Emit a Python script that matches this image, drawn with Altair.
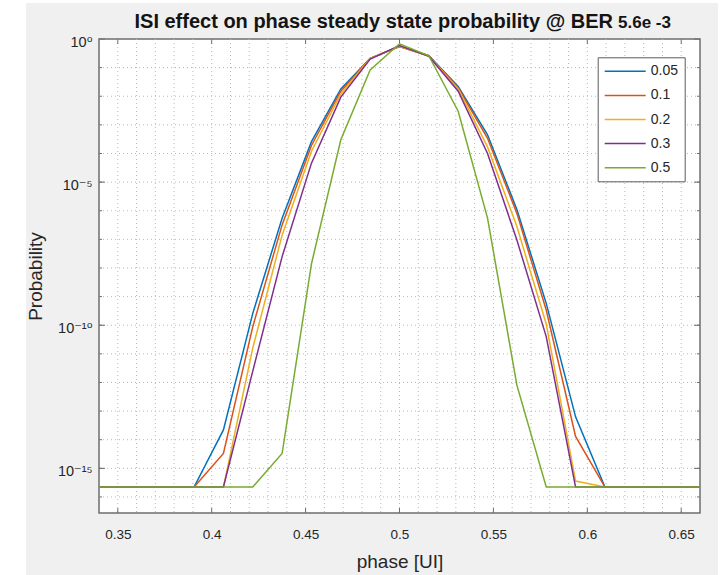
import altair as alt
import pandas as pd

# ---------------- data ----------------
EPS = 2.22e-16  # probability floor (machine epsilon)

phase = [0.328125, 0.34375, 0.359375, 0.375, 0.390625, 0.40625, 0.421875,
         0.4375, 0.453125, 0.46875, 0.484375, 0.5, 0.515625, 0.53125,
         0.546875, 0.5625, 0.578125, 0.59375, 0.609375, 0.625, 0.640625,
         0.65625, 0.671875]

isi_005 = [EPS, EPS, EPS, EPS, EPS, 2.2e-14, 2.6e-10, 5.5e-7, 2.6e-4, 1.8e-2,
           0.21, 0.55, 0.26, 2.2e-2, 4.5e-4, 1.1e-6, 5.8e-10, 6.3e-14,
           EPS, EPS, EPS, EPS, EPS]
isi_01 = [EPS, EPS, EPS, EPS, EPS, 3.3e-15, 8.9e-11, 3.2e-7, 1.9e-4, 1.5e-2,
          0.21, 0.55, 0.26, 2.0e-2, 3.4e-4, 8.1e-7, 3.4e-10, 1.3e-14,
          EPS, EPS, EPS, EPS, EPS]
isi_02 = [EPS, EPS, EPS, EPS, EPS, EPS, 1.6e-11, 1.4e-7, 1.2e-4, 1.2e-2,
          0.21, 0.56, 0.25, 1.8e-2, 1.7e-4, 2.8e-7, 1.1e-10, 3.6e-16,
          EPS, EPS, EPS, EPS, EPS]
isi_03 = [EPS, EPS, EPS, EPS, EPS, EPS, 2.5e-12, 2.5e-8, 4.6e-5, 9.3e-3,
          0.20, 0.59, 0.25, 1.5e-2, 1.0e-4, 9.5e-8, 4.0e-11, EPS,
          EPS, EPS, EPS, EPS, EPS]
isi_05 = [EPS, EPS, EPS, EPS, EPS, EPS, EPS, 3.3e-15, 1.4e-8, 3.0e-4,
          8.3e-2, 0.68, 0.26, 3.0e-3, 5.5e-7, 8.1e-13, EPS, EPS,
          EPS, EPS, EPS, EPS, EPS]

series_names = ["0.05", "0.1", "0.2", "0.3", "0.5"]
series_values = [isi_005, isi_01, isi_02, isi_03, isi_05]
series_colors = ["#0072BD", "#D95319", "#EDB120", "#7E2F8E", "#77AC30"]

x_major = [0.35, 0.4, 0.45, 0.5, 0.55, 0.6, 0.65]
x_minor = [0.35, 0.36, 0.37, 0.38, 0.39, 0.40, 0.41, 0.42, 0.43, 0.44, 0.45,
           0.46, 0.47, 0.48, 0.49, 0.50, 0.51, 0.52, 0.53, 0.54, 0.55, 0.56,
           0.57, 0.58, 0.59, 0.60, 0.61, 0.62, 0.63, 0.64, 0.65]
y_major = [1.0, 1e-5, 1e-10, 1e-15]
y_major_labels = ["10\u2070", "10\u207b\u2075", "10\u207b\u00b9\u2070", "10\u207b\u00b9\u2075"]
y_minor = [1e-1, 1e-2, 1e-3, 1e-4, 1e-5, 1e-6, 1e-7, 1e-8, 1e-9, 1e-10,
           1e-11, 1e-12, 1e-13, 1e-14, 1e-15, 1e-16]

TITLE_MAIN = "ISI effect on phase steady state probability @ BER"
TITLE_BER = "5.6e -3"
X_TITLE = "phase [UI]"
Y_TITLE = "Probability"

# ---------------- tables ----------------
rows = []
for name, vals in zip(series_names, series_values):
    for p, v in zip(phase, vals):
        rows.append({"phase": p, "prob": v, "isi": name})
df = pd.DataFrame(rows)

df_xminor = pd.DataFrame({"phase": x_minor})
df_xmajor = pd.DataFrame({"phase": x_major})
df_ymajor = pd.DataFrame({"prob": y_major})
df_yminor = pd.DataFrame({"prob": y_minor})
df_one = pd.DataFrame({"k": [0]})

# ---------------- styling ----------------
W, H = 601, 474
FONT = "Liberation Sans, Arial, DejaVu Sans, sans-serif"
TXT = "#262626"
FRAME = "#6e6e6e"
GRID = "#b9b9b9"

X_SCALE = alt.Scale(domain=[0.34, 0.66], nice=False, zero=False)
Y_SCALE = alt.Scale(type="log", domain=[2.75e-17, 1.0], nice=False)

label_expr = " : ".join(
    f"datum.value >= {v * 0.5!r} ? '{lab}'" for v, lab in zip(y_major[:-1], y_major_labels[:-1])
) + f" : '{y_major_labels[-1]}'"

x_axis = alt.Axis(values=x_major, format="~g", ticks=False, domain=False, grid=False,
                  labelFlush=False, labelFont=FONT, labelFontSize=13.5, labelColor=TXT,
                  labelPadding=14, title=X_TITLE, titleFont=FONT, titleFontSize=19,
                  titleFontWeight="normal", titleColor=TXT, titlePadding=12)
y_axis = alt.Axis(values=y_major, labelExpr=label_expr, ticks=False, domain=False, grid=False,
                  labelFlush=False, labelFont=FONT, labelFontSize=14.5, labelColor=TXT,
                  labelPadding=7, labelOffset=3, title=Y_TITLE, titleFont=FONT,
                  titleFontSize=19, titleFontWeight="normal", titleColor=TXT,
                  titlePadding=12)


def X():
    return alt.X("phase:Q", scale=X_SCALE, axis=x_axis)


def Y():
    return alt.Y("prob:Q", scale=Y_SCALE, axis=y_axis)


# white margins of the figure window
strip_left = alt.Chart(df_one).mark_rect(color="white").encode(
    x=alt.value(-99), x2=alt.value(-73), y=alt.value(-39), y2=alt.value(536))
strip_top = alt.Chart(df_one).mark_rect(color="white").encode(
    x=alt.value(-99), x2=alt.value(623), y=alt.value(-39), y2=alt.value(-36))
strip_right = alt.Chart(df_one).mark_rect(color="white").encode(
    x=alt.value(619), x2=alt.value(623), y=alt.value(-39), y2=alt.value(536))

# dotted grid
vgrid = alt.Chart(df_xminor).mark_rule(color=GRID, strokeWidth=1, strokeDash=[1, 3]).encode(x=X())
hgrid = alt.Chart(df_yminor).mark_rule(color=GRID, strokeWidth=1, strokeDash=[1, 3]).encode(y=Y())

# inward ticks
tick_style = dict(color=FRAME, strokeWidth=1)
xt_bottom = alt.Chart(df_xmajor).mark_rule(**tick_style).encode(
    x=X(), y=alt.value(H), y2=alt.value(H - 5))
xt_top = alt.Chart(df_xmajor).mark_rule(**tick_style).encode(
    x=X(), y=alt.value(0), y2=alt.value(5))
yt_left = alt.Chart(df_ymajor).mark_rule(**tick_style).encode(
    y=Y(), x=alt.value(0), x2=alt.value(6))
yt_right = alt.Chart(df_ymajor).mark_rule(**tick_style).encode(
    y=Y(), x=alt.value(W), x2=alt.value(W - 6))
ym_left = alt.Chart(df_yminor).mark_rule(**tick_style).encode(
    y=Y(), x=alt.value(0), x2=alt.value(3))
ym_right = alt.Chart(df_yminor).mark_rule(**tick_style).encode(
    y=Y(), x=alt.value(W), x2=alt.value(W - 3))

legend = alt.Legend(title=None, orient="none", legendX=498.7, legendY=18.3,
                    fillColor="white", strokeColor="#5a5a5a", padding=6,
                    symbolType="M-1,0H4.857", symbolSize=196, symbolStrokeWidth=1.5,
                    labelOffset=31, rowPadding=9.1, labelFont=FONT, labelFontSize=14,
                    labelColor=TXT)

lines = alt.Chart(df).mark_line(strokeWidth=1.5, clip=True).encode(
    x=X(), y=Y(),
    color=alt.Color("isi:N", scale=alt.Scale(domain=series_names, range=series_colors),
                    sort=series_names, legend=legend),
)

title_main = alt.Chart(df_one).mark_text(
    text=TITLE_MAIN, align="right", baseline="alphabetic", font=FONT, fontSize=20,
    fontWeight="bold", color="#141414").encode(x=alt.value(514), y=alt.value(-10.7))
title_ber = alt.Chart(df_one).mark_text(
    text=TITLE_BER, align="left", baseline="alphabetic", font=FONT, fontSize=17,
    fontWeight="bold", color="#141414").encode(x=alt.value(519), y=alt.value(-10.7))

chart = alt.layer(
    strip_left, strip_top, strip_right, vgrid, hgrid,
    xt_bottom, xt_top, yt_left, yt_right, ym_left, ym_right,
    lines, title_main, title_ber,
).properties(
    width=W, height=H,
    autosize=alt.AutoSizeParams(type="none"),
    padding={"left": 99, "top": 39, "right": 22, "bottom": 62},
    background="#f0f0f0",
).configure_view(fill="white", stroke=FRAME, strokeWidth=1.5)

chart.save("out.html", embed_options={"renderer": "svg", "actions": False})
